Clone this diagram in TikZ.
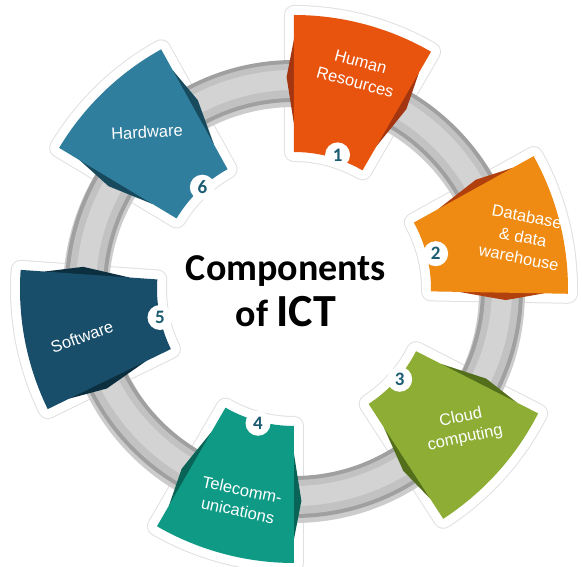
\documentclass[tikz,border=0pt]{standalone}
\usepackage{fontspec}
\setmainfont{Liberation Sans}
\newfontfamily\titlefont{Carlito}
\newfontfamily\labelfont{Liberation Sans}

\definecolor{hrorange}{HTML}{E8540E}
\definecolor{hrdark}{HTML}{A33610}
\definecolor{dborange}{HTML}{EF8B12}
\definecolor{dbdark}{HTML}{B1400E}
\definecolor{cloudgreen}{HTML}{8DAD34}
\definecolor{clouddark}{HTML}{536F1B}
\definecolor{telteal}{HTML}{0F9A86}
\definecolor{teldark}{HTML}{096357}
\definecolor{swblue}{HTML}{184E6A}
\definecolor{swdark}{HTML}{0C2F40}
\definecolor{hwblue}{HTML}{2F7E9D}
\definecolor{hwdark}{HTML}{184A5E}
\definecolor{badgetext}{HTML}{1C5C72}
\definecolor{ringedge}{HTML}{A0A0A0}
\definecolor{ringmid}{HTML}{C2C2C2}
\definecolor{ringlight}{HTML}{D3D3D3}

\tikzset{
  panel text/.style={text=white, align=center, font=\labelfont\fontsize{16.5}{21}\selectfont},
  badge/.style={circle, fill=white, minimum size=25pt, inner sep=0pt, text=badgetext,
    font=\titlefont\bfseries\fontsize{19}{19}\selectfont},
  halo/.style={line join=round, line width=20pt, draw=black!12},
  halo inner/.style={line join=round, line width=18pt, draw=white, fill=white}
}

\begin{document}
\begin{tikzpicture}[x=1pt,y=1pt]
\useasboundingbox (-294,-278) rectangle (288,289);

% white halos behind the panels
\foreach \a in {75,14,-42,-105,-169,134}{
  \path[halo] (\a-15:274) arc[start angle=\a-15,end angle=\a+15,radius=274] -- (\a+15:137) arc[start angle=\a+15,end angle=\a-15,radius=137] -- cycle;
}
\foreach \a in {75,14,-42,-105,-169,134}{
  \path[halo inner] (\a-15:274) arc[start angle=\a-15,end angle=\a+15,radius=274] -- (\a+15:137) arc[start angle=\a+15,end angle=\a-15,radius=137] -- cycle;
}

% the ring
\draw[line width=46, black!20] (0,-3) circle (208);
\draw[line width=42, ringedge] (0,0) circle (208);
\draw[line width=34, ringmid] (0,0) circle (208);
\draw[line width=20, ringlight] (0,1) circle (208);

% panels
\foreach \a/\fc/\dc in {75/hrorange/hrdark, 14/dborange/dbdark, -42/cloudgreen/clouddark, -105/telteal/teldark, -169/swblue/swdark, 134/hwblue/hwdark}{
  \fill[\dc] (\a+15:250) -- (\a+17:212) -- (\a+15:165) -- (\a-15:165) -- (\a-17:212) -- (\a-15:250) -- cycle;
  \fill[\fc] (\a-15:274) arc[start angle=\a-15,end angle=\a+15,radius=274] -- (\a+15:137) arc[start angle=\a+15,end angle=\a-15,radius=137] -- cycle;
}

% labels
\node[panel text, rotate=-15] (hr) at (64,217) {Human\\Resources};
\node[panel text, rotate=-11] (db) at (229,52) {Database\\\& data\\warehouse};
\node[panel text, rotate=12] (cloud) at (169,-139) {Cloud\\computing};
\node[panel text, rotate=-12] (tel) at (-54,-211) {Telecomm-\\unications};
\node[panel text, rotate=20] (sw) at (-212,-48) {Software};
\node[panel text, rotate=3] (hw) at (-147,157) {Hardware};

% number badges
\node[badge] (one) at (72:141) {1};
\node[badge] (two) at (14:146) {2};
\node[badge] (three) at (-40.5:139) {3};
\node[badge] (four) at (-105:139) {4};
\node[badge] (five) at (-168:137) {5};
\node[badge] (six) at (132:137) {6};

% title
\node[anchor=base, font=\titlefont\bfseries\fontsize{38}{38}\selectfont] (title) at (-8,8) {Components};
\node[anchor=base, font=\titlefont\bfseries\fontsize{38}{38}\selectfont] (subtitle) at (-8,-38) {of \fontsize{46}{46}\selectfont ICT};
\end{tikzpicture}
\end{document}
